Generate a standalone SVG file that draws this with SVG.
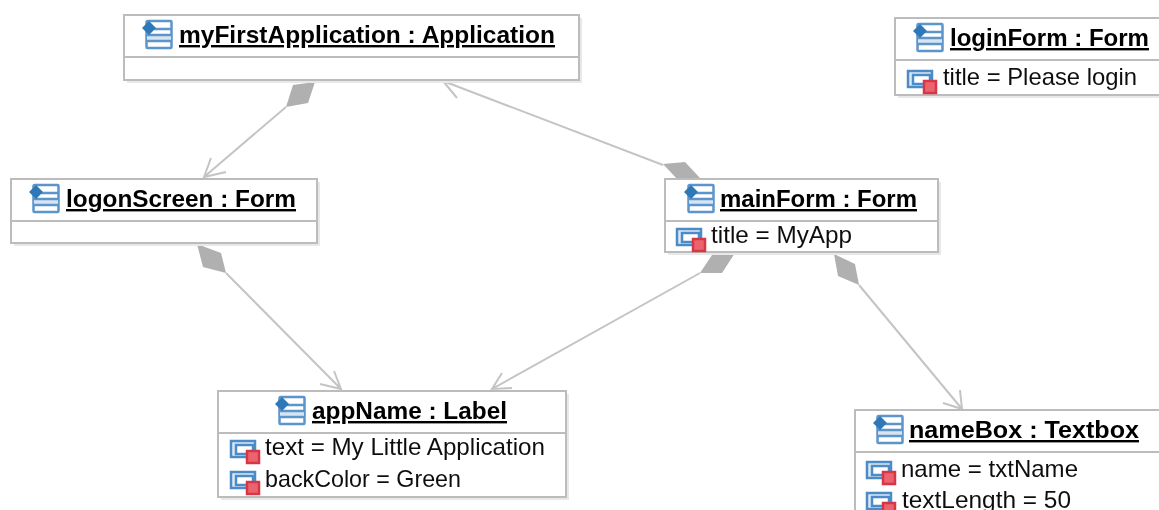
<svg xmlns="http://www.w3.org/2000/svg" width="1159" height="510" viewBox="0 0 1159 510">
<style>
.box{fill:#fff;stroke:#bcbcbc;stroke-width:2}
.sh{fill:#e8e8e8}
.sep{stroke:#bcbcbc;stroke-width:2}
.t{font-family:"Liberation Sans",Arial,sans-serif;font-size:24px;font-weight:bold;fill:#000;text-decoration:underline}
.a{font-family:"Liberation Sans",Arial,sans-serif;font-size:24px;fill:#111}
.c{stroke:#c4c4c4;stroke-width:2;fill:none}
.d{fill:#b0b0b0;stroke:none}
</style>
<defs>
<filter id="soft" filterUnits="userSpaceOnUse" x="0" y="0" width="1159" height="510"><feGaussianBlur stdDeviation="0.5"/></filter>
<g id="oi">
<rect x="4.500" y="1" width="25" height="27" rx="1" fill="#fff" stroke="#5c94cc" stroke-width="2.500"/>
<rect x="5" y="15" width="24" height="6" fill="#d8e4f0"/>
<path d="M12 9H29M5 15H29M5 21H29" stroke="#5c94cc" stroke-width="2.500" fill="none"/>
<path d="M7 1L14 8L7 15L0 8Z" fill="#2f78b8"/>
</g>
<g id="ai">
<rect x="0" y="0" width="24" height="16" fill="#dce8f4" stroke="#4c8cc8" stroke-width="2.500"/>
<rect x="5" y="4" width="17" height="9" fill="#fff" stroke="#4c8cc8" stroke-width="2.500"/>
<rect x="16" y="10" width="12" height="12" fill="#ec6470" stroke="#d83444" stroke-width="2.500"/>
</g>
</defs>
<g filter="url(#soft)">
<g id="connectors">
<path class="c" d="M286 107L204 177M211 158L204 177L226 172"/>
<path class="d" d="M315 82L293 85L286 107L308 103Z"/>
<path class="c" d="M663 165L443 81M463 79L443 81L457 98"/>
<path class="d" d="M663 164L685 162L700 178L678 180Z"/>
<path class="c" d="M226 273L341 389M334 371L341 389L320 384"/>
<path class="d" d="M197 244L221 253L226 273L203 267Z"/>
<path class="c" d="M700 273L492 389M502 373L492 389L512 388"/>
<path class="d" d="M735 253L712 255L700 273L722 273Z"/>
<path class="c" d="M859 285L962 409M960 390L962 409L943 403"/>
<path class="d" d="M834 254L855 264L859 285L838 276Z"/>
</g>
<g id="myFirstApplication">
<rect class="sh" x="127" y="18" width="455" height="65"/>
<rect class="box" x="124" y="15" width="455" height="65"/>
<line class="sep" x1="124" y1="57" x2="579" y2="57"/>
<use href="#oi" x="142" y="20"/>
<text class="t" x="179" y="43" textLength="376" lengthAdjust="spacingAndGlyphs">myFirstApplication : Application</text>
</g>
<g id="loginForm">
<rect class="sh" x="898" y="21" width="264" height="77"/>
<rect class="box" x="895" y="18" width="266" height="77"/>
<line class="sep" x1="895" y1="60" x2="1161" y2="60"/>
<use href="#oi" x="913" y="23"/>
<text class="t" x="950" y="46" textLength="199" lengthAdjust="spacingAndGlyphs">loginForm : Form</text>
<use href="#ai" x="908" y="71"/>
<text class="a" x="943" y="85" textLength="194" lengthAdjust="spacingAndGlyphs">title = Please login</text>
</g>
<g id="logonScreen">
<rect class="sh" x="14" y="182" width="306" height="64"/>
<rect class="box" x="11" y="179" width="306" height="64"/>
<line class="sep" x1="11" y1="221" x2="317" y2="221"/>
<use href="#oi" x="29" y="184"/>
<text class="t" x="66" y="207" textLength="230" lengthAdjust="spacingAndGlyphs">logonScreen : Form</text>
</g>
<g id="mainForm">
<rect class="sh" x="668" y="182" width="273" height="73"/>
<rect class="box" x="665" y="179" width="273" height="73"/>
<line class="sep" x1="665" y1="221" x2="938" y2="221"/>
<use href="#oi" x="684" y="184"/>
<text class="t" x="720" y="207" textLength="197" lengthAdjust="spacingAndGlyphs">mainForm : Form</text>
<use href="#ai" x="677" y="229"/>
<text class="a" x="711" y="243" textLength="141" lengthAdjust="spacingAndGlyphs">title = MyApp</text>
</g>
<g id="appName">
<rect class="sh" x="221" y="394" width="348" height="106"/>
<rect class="box" x="218" y="391" width="348" height="106"/>
<line class="sep" x1="218" y1="433" x2="566" y2="433"/>
<use href="#oi" x="275" y="396"/>
<text class="t" x="312" y="419" textLength="195" lengthAdjust="spacingAndGlyphs">appName : Label</text>
<use href="#ai" x="231" y="441"/>
<text class="a" x="265" y="455" textLength="280" lengthAdjust="spacingAndGlyphs">text = My Little Application</text>
<use href="#ai" x="231" y="472"/>
<text class="a" x="265" y="487" textLength="196" lengthAdjust="spacingAndGlyphs">backColor = Green</text>
</g>
<g id="nameBox">
<rect class="box" x="855" y="410" width="306" height="110"/>
<line class="sep" x1="855" y1="452" x2="1161" y2="452"/>
<use href="#oi" x="873" y="415"/>
<text class="t" x="909" y="438" textLength="230" lengthAdjust="spacingAndGlyphs">nameBox : Textbox</text>
<use href="#ai" x="867" y="462"/>
<text class="a" x="901" y="477" textLength="177" lengthAdjust="spacingAndGlyphs">name = txtName</text>
<use href="#ai" x="867" y="493"/>
<text class="a" x="902" y="508" textLength="169" lengthAdjust="spacingAndGlyphs">textLength = 50</text>
</g>
</g>
</svg>
